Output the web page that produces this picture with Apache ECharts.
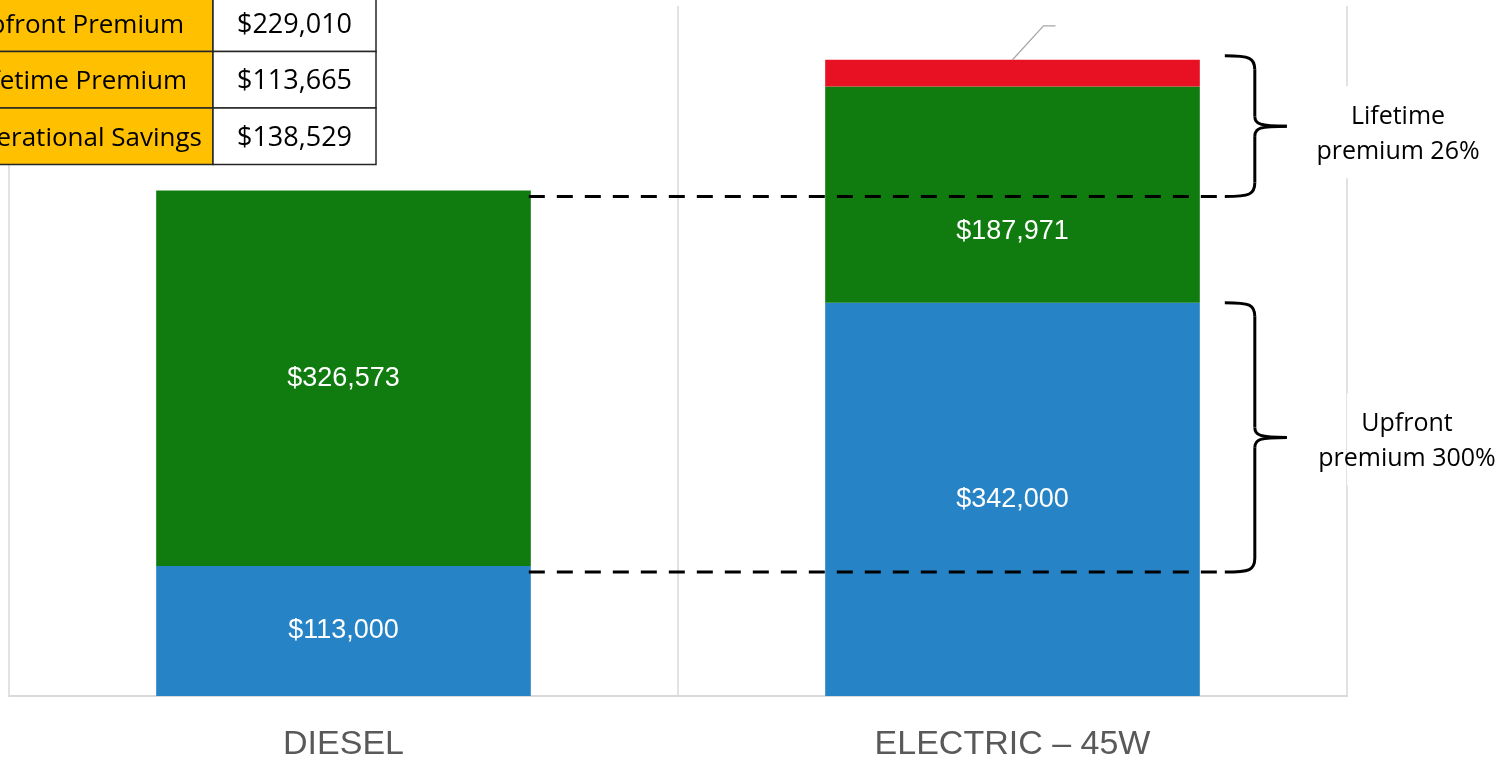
<!DOCTYPE html>
<html><head><meta charset="utf-8">
<script src="https://cdn.jsdelivr.net/npm/echarts@6/dist/echarts.min.js"></script>
<style>html,body{margin:0;padding:0;background:#fff;overflow:hidden}#c{width:1502px;height:762px}</style>
</head><body><div id="c"></div>
<script>
// ---- data ----
const categories = ['DIESEL', 'ELECTRIC – 45W'];
const upfrontCost = [113000, 342000];
const lifetimeCost = [326573, 187971];
const extraCost = [null, 23267];
const tableLabels = ['Upfront Premium', 'Lifetime Premium', 'Operational Savings'];
const tableValues = ['$229,010', '$113,665', '$138,529'];
const bracketLabels = ['Lifetime\npremium 26%', 'Upfront\npremium 300%'];
const yMax = 600000;

const BLUE = '#2683C6', GREEN = '#107C10', RED = '#E81123';
const fmt = v => '$' + Number(v).toLocaleString('en-US');
const chart = echarts.init(document.getElementById('c'), null, {renderer: 'canvas', width: 1502, height: 762});

const barLabel = {show: true, position: 'inside', color: '#fff', fontSize: 27,
  fontFamily: 'Liberation Sans, Arial, sans-serif', formatter: p => fmt(p.value)};

chart.setOption({
  animation: false,
  grid: {left: 9, width: 1338, top: 6, height: 691, containLabel: false},
  xAxis: {
    type: 'category', data: categories, boundaryGap: true,
    axisLine: {show: true, lineStyle: {color: '#d9d9d9', width: 2}},
    axisTick: {show: false},
    splitLine: {show: true, lineStyle: {color: '#d9d9d9', width: 1.5}},
    axisLabel: {color: '#595959', fontSize: 34, margin: 32,
      fontFamily: 'Liberation Sans, Arial, sans-serif'}
  },
  yAxis: {type: 'value', min: 0, max: yMax, show: false, splitLine: {show: false}},
  series: [
    {name: 'Upfront', type: 'bar', stack: 't', data: upfrontCost, barWidth: '56%',
      itemStyle: {color: BLUE}, label: barLabel},
    {name: 'Lifetime', type: 'bar', stack: 't', barWidth: '56%',
      data: lifetimeCost.map((v, i) => i === 1 ? {value: v, label: {offset: [0, 37]}} : v),
      itemStyle: {color: GREEN}, label: barLabel},
    {name: 'Extra', type: 'bar', stack: 't', data: extraCost, barWidth: '56%',
      itemStyle: {color: RED}, label: {show: false}}
  ]
});

// ---- annotations computed from the chart's own scales ----
const px = (i, v) => chart.convertToPixel({gridIndex: 0}, [i, v]);
const dieselTotal = upfrontCost[0] + lifetimeCost[0];
const elecTotal = upfrontCost[1] + lifetimeCost[1] + (extraCost[1] || 0);
const c0 = px(0, 0)[0], c1 = px(1, 0)[0];
const bandW = c1 - c0, barW = bandW * 0.56;
const dRight = c0 + barW / 2, eRight = c1 + barW / 2;
const yDTop = px(0, dieselTotal)[1], yDBlue = px(0, upfrontCost[0])[1];
const yETop = px(1, elecTotal)[1], yEBlue = px(1, upfrontCost[1])[1];
const gridRight = c1 + bandW / 2;

const bx0 = eRight + 25, bxv = eRight + 55, bxt = eRight + 87;
const bStyle = {fill: 'none', stroke: '#000', lineWidth: 3};
function bracket(yT, yB, out) {
  const ym = (yT + yB) / 2;
  const bz = (x1, y1, cpx1, cpy1, cpx2, cpy2, x2, y2) => out.push({type: 'bezierCurve', z: 50,
    shape: {x1, y1, cpx1, cpy1, cpx2, cpy2, x2, y2}, style: bStyle});
  const ln = (x1, y1, x2, y2) => out.push({type: 'line', z: 50, shape: {x1, y1, x2, y2}, style: bStyle});
  bz(bx0, yT, bxv - 5, yT, bxv, yT + 2, bxv, yT + 14);
  ln(bxv, yT + 14, bxv, ym - 10);
  bz(bxv, ym - 10, bxv, ym - 2, bxv + 5, ym, bxt, ym);
  bz(bxt, ym, bxv + 5, ym, bxv, ym + 2, bxv, ym + 10);
  ln(bxv, ym + 10, bxv, yB - 14);
  bz(bxv, yB - 14, bxv, yB - 2, bxv - 5, yB, bx0, yB);
}
const g = [];
const dashStyle = {stroke: '#000', lineWidth: 3, lineDash: [16, 12]};
const yDash1 = yDTop + 6, yDash2 = yDBlue + 6;
g.push({type: 'line', z: 50, shape: {x1: dRight - 2, y1: yDash1, x2: bx0 - 8, y2: yDash1}, style: dashStyle});
g.push({type: 'line', z: 50, shape: {x1: dRight - 2, y1: yDash2, x2: bx0 - 8, y2: yDash2}, style: dashStyle});
const br1T = yETop - 4, br1B = yDash1, br2T = yEBlue, br2B = yDash2;
bracket(br1T, br1B, g);
bracket(br2T, br2B, g);

// bracket labels with white background masking the grid line
const labelFont = '25px "Open Sans", sans-serif';
[[bracketLabels[0], gridRight + 51, (br1T + br1B) / 2 + 6],
 [bracketLabels[1], gridRight + 60, (br2T + br2B) / 2 + 2]].forEach(([t, x, y]) => {
  g.push({type: 'rect', z: 40, shape: {x: x - 60, y: y - 46, width: 120, height: 92}, style: {fill: '#fff'}});
  g.push({type: 'text', z: 60, x: x, y: y + 2, style: {text: t, font: labelFont, fill: '#000',
    align: 'center', verticalAlign: 'middle', lineHeight: 35}});
});

// leader line from the red segment
const lx = c1, ly = yETop;
g.push({type: 'polyline', z: 50, shape: {points: [[lx, ly], [lx + 31, ly - 34], [lx + 43, ly - 34]]},
  style: {fill: 'none', stroke: '#a6a6a6', lineWidth: 1.2}});

// summary table (top-left, partly off canvas)
const tTop = -5, rowH = 56.5, colL = -80, colM = 213, colR = 376;
const labelRight = [184, 187, 202];
tableLabels.forEach((lab, i) => {
  const y = tTop + i * rowH;
  g.push({type: 'rect', z: 70, shape: {x: colL, y: y, width: colM - colL, height: rowH},
    style: {fill: '#FFC000', stroke: '#262626', lineWidth: 1.5}});
  g.push({type: 'rect', z: 70, shape: {x: colM, y: y, width: colR - colM, height: rowH},
    style: {fill: '#fff', stroke: '#262626', lineWidth: 1.5}});
  g.push({type: 'text', z: 71, x: labelRight[i], y: y + rowH / 2 + 2, style: {text: lab,
    font: '26px "Open Sans", sans-serif', fill: '#000', align: 'right', verticalAlign: 'middle'}});
  g.push({type: 'text', z: 71, x: (colM + colR) / 2, y: y + rowH / 2 + 2, style: {text: tableValues[i],
    font: '27px "Open Sans", sans-serif', fill: '#000', align: 'center', verticalAlign: 'middle'}});
});
chart.setOption({graphic: {elements: g}});
</script></body></html>
